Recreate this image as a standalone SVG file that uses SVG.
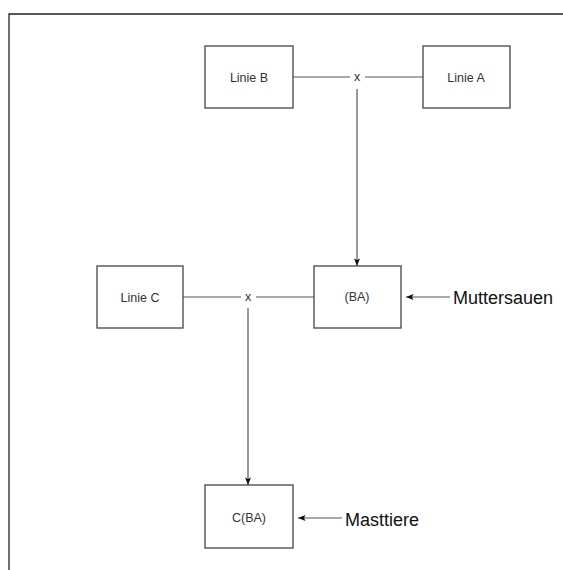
<svg xmlns="http://www.w3.org/2000/svg" width="563" height="570" viewBox="0 0 563 570">
<defs>
<marker id="ah" viewBox="0 0 10 8" refX="10" refY="4" markerWidth="8" markerHeight="6" orient="auto" markerUnits="userSpaceOnUse">
<path d="M0,0 L10,4 L0,8 L2,4 z" fill="#111"/>
</marker>
<style>
.box{fill:#fff;stroke:#444;stroke-width:1.3}
.lbl{font-family:"Liberation Sans",Arial,sans-serif;font-size:12.5px;fill:#333;text-anchor:middle}
.big{font-family:"Liberation Sans",Arial,sans-serif;font-size:18px;fill:#111}
.ln{stroke:#555;stroke-width:1.2;fill:none}
.x{font-family:"Liberation Sans",Arial,sans-serif;font-size:12.5px;fill:#333;text-anchor:middle}
</style>
</defs>
<rect width="563" height="570" fill="#fff"/>
<path d="M9,570 V14 H563" fill="none" stroke="#222" stroke-width="1.3"/>
<g id="connectors">
<line class="ln" x1="293" y1="77" x2="350" y2="77"/>
<line class="ln" x1="365" y1="77" x2="423" y2="77"/>
<text class="x" x="357" y="81">x</text>
<line class="ln" x1="357" y1="89" x2="357" y2="266" marker-end="url(#ah)"/>
<line class="ln" x1="183" y1="297" x2="241" y2="297"/>
<line class="ln" x1="256" y1="297" x2="314" y2="297"/>
<text class="x" x="248" y="301">x</text>
<line class="ln" x1="248" y1="308" x2="248" y2="485" marker-end="url(#ah)"/>
<line class="ln" x1="450" y1="297" x2="406" y2="297" marker-end="url(#ah)"/>
<line class="ln" x1="342" y1="518" x2="298" y2="518" marker-end="url(#ah)"/>
</g>
<g id="linieB"><rect class="box" x="205" y="46" width="88" height="62"/><text class="lbl" x="249" y="82">Linie B</text></g>
<g id="linieA"><rect class="box" x="423" y="46" width="87" height="62"/><text class="lbl" x="466" y="82">Linie A</text></g>
<g id="BA"><rect class="box" x="314" y="266" width="87" height="62"/><text class="lbl" x="357" y="301">(BA)</text></g>
<g id="linieC"><rect class="box" x="97" y="266" width="86" height="62"/><text class="lbl" x="140" y="302">Linie C</text></g>
<g id="CBA"><rect class="box" x="205" y="485" width="88" height="63"/><text class="lbl" x="249" y="522">C(BA)</text></g>
<g id="muttersauen"><text class="big" x="453" y="304">Muttersauen</text></g>
<g id="masttiere"><text class="big" x="345" y="526">Masttiere</text></g>
</svg>
